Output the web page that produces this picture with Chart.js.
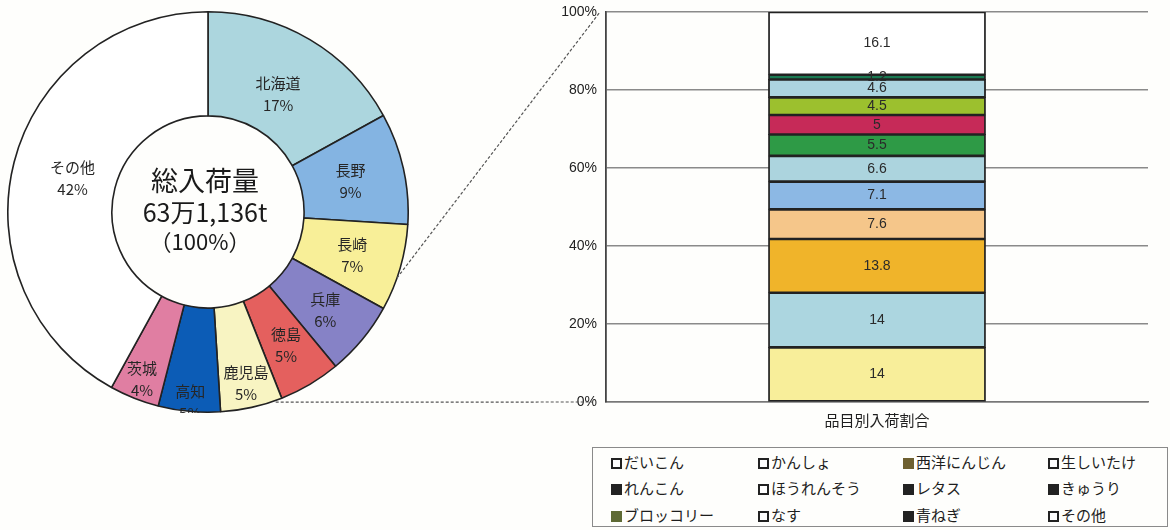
<!DOCTYPE html>
<html lang="ja">
<head>
<meta charset="utf-8">
<script src="https://cdn.jsdelivr.net/npm/chart.js@4.4.1/dist/chart.umd.min.js"></script>
<style>
body { margin: 0; width: 1170px; height: 530px; position: relative; overflow: hidden; background: #fefefc; font-family: "Noto Sans CJK JP", sans-serif; }
#donutWrap { position: absolute; left: 7px; top: 11px; width: 402px; height: 402px; }
#barWrap { position: absolute; left: 540px; top: 0; width: 630px; height: 440px; }
#links { position: absolute; left: 0; top: 0; pointer-events: none; }
#legend { position: absolute; left: 592px; top: 447px; width: 574px; height: 78px; border: 1.5px solid #8a8a8a; background: #fefefc; }
.item { position: absolute; font-size: 15px; color: #1e1e1e; line-height: 18px; white-space: nowrap; }
.mark { display: inline-block; width: 7px; height: 7px; border: 2px solid #222; margin-right: 2px; vertical-align: -1px; }
</style>
</head>
<body>
<div id="donutWrap"><canvas id="donut"></canvas></div>
<div id="barWrap"><canvas id="bar"></canvas></div>
<canvas id="links" width="1170" height="530"></canvas>
<div id="legend"></div>
<script>
// 産地別（ドーナツ）
const prefectures = ["北海道", "長野", "長崎", "兵庫", "徳島", "鹿児島", "高知", "茨城", "その他"];
const prefShares = [17, 9, 7, 6, 5, 5, 5, 4, 42];
const centerLines = ["総入荷量", "63万1,136t", "（100%）"];

// 品目別（100%積み上げ）
const category = ["品目別入荷割合"];
const items = ["だいこん", "かんしょ", "西洋にんじん", "生しいたけ", "れんこん", "ほうれんそう", "レタス", "きゅうり", "ブロッコリー", "なす", "青ねぎ", "その他"];
const itemShares = [14, 14, 13.8, 7.6, 7.1, 6.6, 5.5, 5, 4.5, 4.6, 1.2, 16.1];
const yTicks = [0, 20, 40, 60, 80, 100];

// styles
const prefColors = ["#acd6de", "#84b4e2", "#f8ef98", "#8682c6", "#e4605e", "#f8f4c2", "#0c5cb6", "#e07ea2", "#ffffff"];
const prefLabelPos = [0.4, 0.48, 0.52, 0.54, 0.55, 0.75, 0.9, 0.8, 0.42];
const itemColors = ["#f8ee9a", "#acd6e0", "#f0b42a", "#f5c68a", "#8cb8e4", "#acd4de", "#2e9a46", "#c62a58", "#9cc02e", "#acd4e0", "#1a7a52", "#ffffff"];
const legendMarks = ["#fff", "#fff", "#6e6030", "#fff", "#222", "#fff", "#222", "#222", "#5e6a34", "#fff", "#222", "#fff"];
const legendCols = [18, 165, 310, 455];
const legendRows = [5, 31, 58];

const donutLabels = {
    id: "donutLabels",
    afterDatasetsDraw(chart) {
        const { ctx } = chart;
        const arcs = chart.getDatasetMeta(0).data;
        ctx.save();
        ctx.textAlign = "center";
        ctx.textBaseline = "middle";
        ctx.fillStyle = "#262626";
        ctx.font = "15px 'Noto Sans CJK JP'";
        arcs.forEach((arc, i) => {
            const a = (arc.startAngle + arc.endAngle) / 2;
            const r = arc.innerRadius + (arc.outerRadius - arc.innerRadius) * prefLabelPos[i];
            const x = arc.x + Math.cos(a) * r;
            const y = arc.y + Math.sin(a) * r;
            ctx.fillText(prefectures[i], x, y - 10);
            ctx.fillText(prefShares[i] + "%", x, y + 12);
        });
        const c = arcs[0];
        ctx.fillStyle = "#1a1a1a";
        ctx.font = "27px 'Noto Sans CJK JP'";
        ctx.fillText(centerLines[0], c.x - 3, c.y - 31);
        ctx.font = "25px 'Noto Sans CJK JP'";
        ctx.fillText(centerLines[1], c.x - 3, c.y);
        ctx.font = "22px 'Noto Sans CJK JP'";
        ctx.fillText(centerLines[2], c.x - 8, c.y + 30);
        ctx.restore();
    }
};

const barLabels = {
    id: "barLabels",
    afterDatasetsDraw(chart) {
        const { ctx } = chart;
        ctx.save();
        ctx.textAlign = "center";
        ctx.textBaseline = "middle";
        ctx.fillStyle = "#2a2a2a";
        ctx.font = "14px 'Liberation Sans', Arial, sans-serif";
        chart.data.datasets.forEach((ds, i) => {
            const bar = chart.getDatasetMeta(i).data[0];
            ctx.fillText(String(ds.data[0]), bar.x, (bar.y + bar.base) / 2);
        });
        ctx.restore();
    }
};

const donutChart = new Chart(document.getElementById("donut"), {
    type: "doughnut",
    data: {
        labels: prefectures,
        datasets: [{
            data: prefShares,
            backgroundColor: prefColors,
            borderColor: "#222",
            borderWidth: 1.6
        }]
    },
    options: {
        responsive: true,
        maintainAspectRatio: false,
        animation: false,
        cutout: "48%",
        layout: { padding: 0 },
        plugins: { legend: { display: false }, tooltip: { enabled: false } }
    },
    plugins: [donutLabels]
});

const barChart = new Chart(document.getElementById("bar"), {
    type: "bar",
    data: {
        labels: category,
        datasets: items.map((name, i) => ({
            label: name,
            data: [itemShares[i]],
            backgroundColor: itemColors[i],
            borderColor: "#222",
            borderWidth: 1.8,
            borderSkipped: false,
            inflateAmount: 0.5,
            barPercentage: 0.4,
            categoryPercentage: 1
        }))
    },
    options: {
        responsive: true,
        maintainAspectRatio: false,
        animation: false,
        layout: { padding: { top: 12, right: 22, left: 0, bottom: 0 } },
        plugins: { legend: { display: false }, tooltip: { enabled: false } },
        scales: {
            x: {
                stacked: true,
                grid: { display: false },
                border: { display: true, color: "#777", width: 1.5 },
                ticks: { color: "#1e1e1e", padding: 1, font: { size: 15, family: "'Noto Sans CJK JP'" } },
                afterFit(scale) { scale.height = 38; }
            },
            y: {
                stacked: true,
                min: 0,
                max: 100,
                afterBuildTicks(scale) { scale.ticks = yTicks.map(v => ({ value: v })); },
                grid: { color: "#8a8a8a", lineWidth: 1.5, drawTicks: false },
                border: { display: true, color: "#444", width: 1.8 },
                ticks: {
                    color: "#222",
                    padding: 9,
                    font: { size: 14, family: "'Liberation Sans', Arial, sans-serif" },
                    callback: v => v + "%"
                },
                afterFit(scale) {
                    scale.width = 66;
                    scale.paddingTop = 0;
                    scale.paddingBottom = 0;
                }
            }
        }
    },
    plugins: [barLabels]
});

// 拡大線
function drawLinks() {
    const ctx = document.getElementById("links").getContext("2d");
    const dBox = document.getElementById("donutWrap");
    const bBox = document.getElementById("barWrap");
    const arcs = donutChart.getDatasetMeta(0).data;
    const up = arcs[2];
    const low = arcs[4];
    const a1 = up.startAngle + (up.endAngle - up.startAngle) * 0.62;
    const a2 = low.endAngle;
    const ox = dBox.offsetLeft, oy = dBox.offsetTop;
    const p1 = [ox + up.x + Math.cos(a1) * up.outerRadius, oy + up.y + Math.sin(a1) * up.outerRadius];
    const p2 = [ox + low.x + Math.cos(a2) * low.outerRadius - 6, oy + low.y + Math.sin(a2) * low.outerRadius + 4];
    const area = barChart.chartArea;
    const yS = barChart.scales.y;
    const xEnd = bBox.offsetLeft + area.left - 6;
    ctx.strokeStyle = "#555";
    ctx.lineWidth = 1.2;
    ctx.setLineDash([3, 2]);
    ctx.beginPath();
    ctx.moveTo(p1[0], p1[1]);
    ctx.lineTo(xEnd, bBox.offsetTop + yS.getPixelForValue(100));
    ctx.moveTo(p2[0], p2[1]);
    ctx.lineTo(xEnd - 8, bBox.offsetTop + yS.getPixelForValue(0));
    ctx.stroke();
}
drawLinks();

// 凡例
const legend = document.getElementById("legend");
items.forEach((name, i) => {
    const el = document.createElement("div");
    el.className = "item";
    el.style.left = legendCols[i % 4] + "px";
    el.style.top = legendRows[Math.floor(i / 4)] + "px";
    const mark = document.createElement("span");
    mark.className = "mark";
    mark.style.background = legendMarks[i];
    if (legendMarks[i] !== "#fff") mark.style.borderColor = legendMarks[i];
    el.appendChild(mark);
    el.appendChild(document.createTextNode(name));
    legend.appendChild(el);
});
</script>
</body>
</html>
